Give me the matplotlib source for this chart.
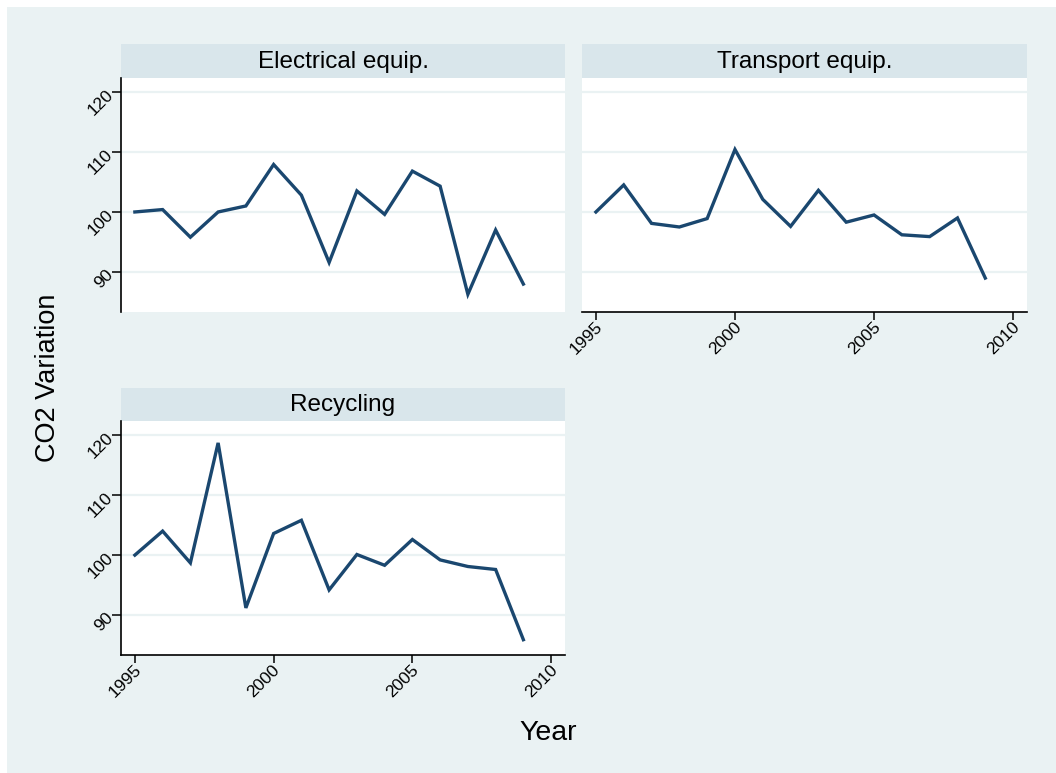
import numpy as np
import matplotlib
matplotlib.use("Agg")
import matplotlib.pyplot as plt
from matplotlib.patches import Rectangle
from matplotlib.transforms import ScaledTranslation

# CO2 variation index by sector (1995 = 100)
years = list(range(1995, 2010))
electrical = [100, 100.4, 95.8, 100, 101, 107.9, 102.8, 91.6, 103.5, 99.6,
              106.8, 104.3, 86.3, 97.0, 88.0]
transport = [100, 104.5, 98.1, 97.5, 98.9, 110.4, 102.1, 97.6, 103.6, 98.3,
             99.5, 96.2, 95.9, 99.0, 89.0]
recycling = [100, 104.0, 98.7, 118.7, 91.2, 103.6, 105.8, 94.2, 100.1, 98.3,
             102.6, 99.2, 98.1, 97.6, 85.9]
panel_titles = ["Electrical equip.", "Transport equip.", "Recycling"]
x_ticks = [1995, 2000, 2005, 2010]
y_ticks = [90, 100, 110, 120]

BG = "#EAF2F3"
STRIP = "#D9E6EB"
LINE = "#1A476F"

plt.rcParams["font.family"] = ["Liberation Sans", "DejaVu Sans"]

W, H = 1056, 773
fig = plt.figure(figsize=(W / 100, H / 100), dpi=100)
fig.patch.set_facecolor("white")
fig.patches.append(Rectangle((7 / W, 0), 1 - 7 / W, 1 - 7 / H,
                             transform=fig.transFigure, facecolor=BG,
                             edgecolor="none", zorder=-10))


def px_box(left, top, right, bottom):
    return [left / W, 1 - bottom / H, (right - left) / W, (bottom - top) / H]


def make_panel(left, right, strip_top, plot_top, plot_bottom, title, values,
               show_x, show_y):
    sax = fig.add_axes(px_box(left, strip_top, right, plot_top))
    sax.set_facecolor(STRIP)
    sax.set_xticks([])
    sax.set_yticks([])
    for s in sax.spines.values():
        s.set_visible(False)
    sax.text(0.5, 0.47, title, ha="center", va="center", fontsize=17.5,
             transform=sax.transAxes)

    ax = fig.add_axes(px_box(left, plot_top, right, plot_bottom))
    ax.set_facecolor("white")
    ax.set_xlim(1994.5, 2010.5)
    ax.set_ylim(83.35, 122.35)
    for yv in y_ticks:
        ax.axhline(yv, color=BG, lw=1.6, zorder=1)
    ax.plot(years, values, color=LINE, lw=2.4, zorder=3,
            solid_joinstyle="miter")
    ax.spines["top"].set_visible(False)
    ax.spines["right"].set_visible(False)
    ax.spines["left"].set_visible(show_y)
    ax.spines["bottom"].set_visible(show_x)
    for s in ("left", "bottom"):
        ax.spines[s].set_linewidth(1.2)
    if show_y:
        ax.set_yticks(y_ticks)
        ax.set_yticklabels([str(v) for v in y_ticks], rotation=45,
                           fontsize=12.5, va="center", ha="right",
                           rotation_mode="anchor")
        ax.tick_params(axis="y", length=6.5, width=1.1, pad=1)
    else:
        ax.set_yticks([])
    if show_x:
        ax.set_xticks(x_ticks)
        ax.set_xticklabels([str(v) for v in x_ticks], rotation=45,
                           fontsize=12.5, ha="right", va="center",
                           rotation_mode="anchor")
        ax.tick_params(axis="x", length=6, width=1.1, pad=3)
        # nudge the slanted year labels so they end just right of the tick
        shift = ScaledTranslation(4 / 100, 0, fig.dpi_scale_trans)
        for lab in ax.get_xticklabels():
            lab.set_transform(lab.get_transform() + shift)
    else:
        ax.set_xticks([])
    return ax


make_panel(121, 565, 44, 77.7, 312, panel_titles[0], electrical,
           show_x=False, show_y=True)
make_panel(582, 1027, 44, 77.7, 312, panel_titles[1], transport,
           show_x=True, show_y=False)
make_panel(121, 565, 388, 421, 655, panel_titles[2], recycling,
           show_x=True, show_y=True)

fig.text(48 / W, 1 - 378 / H, "CO2 Variation", rotation=90, ha="center",
         va="center", fontsize=19.5)
fig.text(548 / W, 1 - 733 / H, "Year", ha="center", va="center", fontsize=20.5)

fig.savefig("out.png", dpi=100, facecolor=fig.get_facecolor())
